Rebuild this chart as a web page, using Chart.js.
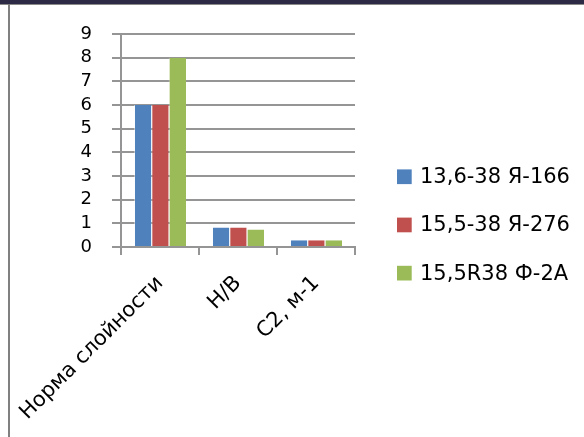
<!DOCTYPE html>
<html>
<head>
<meta charset="utf-8">
<script src="https://cdn.jsdelivr.net/npm/chart.js@4/dist/chart.umd.min.js"></script>
<style>
  html, body { margin: 0; padding: 0; background: #ffffff; }
  #wrap { position: relative; width: 584px; height: 437px; overflow: hidden; }
  canvas { position: absolute; left: 0; top: 0; }
  #band { position: absolute; left: 0; top: 0; width: 584px; height: 4px; background: #2c2a44; }
  #rule { position: absolute; left: 0; top: 4px; width: 584px; height: 1px; background: #8a8a8a; }
  #edge { position: absolute; left: 8px; top: 4px; width: 2px; height: 433px; background: #808080; }
</style>
</head>
<body>
<div id="wrap">
  <canvas id="chart" width="584" height="437"></canvas>
  <div id="band"></div>
  <div id="rule"></div>
  <div id="edge"></div>
</div>
<script>
// Categories and series
const categories = ['Норма слойности', 'Н/В', 'С2, м-1'];
const seriesNames = ['13,6-38 Я-166', '15,5-38 Я-276', '15,5R38 Ф-2А'];
const seriesYa166 = [6, 0.82, 0.29];
const seriesYa276 = [6, 0.82, 0.29];
const seriesF2A = [8, 0.74, 0.29];
const yTickValues = [0, 1, 2, 3, 4, 5, 6, 7, 8, 9];
const seriesColors = ['#4F81BD', '#C0504D', '#9BBB59'];

const gridColor = '#959595';
const fontFamily = '"DejaVu Sans", "Liberation Sans", sans-serif';

// Legend drawn at the right side, one row per dataset
const sideLegend = {
  id: 'sideLegend',
  afterDraw(chart) {
    const ctx = chart.ctx;
    ctx.save();
    ctx.font = '21px ' + fontFamily;
    ctx.textBaseline = 'middle';
    ctx.textAlign = 'left';
    chart.data.datasets.forEach((ds, i) => {
      const cy = 176.7 + i * 48.2;
      ctx.fillStyle = ds.backgroundColor;
      ctx.fillRect(397, cy - 7.3, 14.7, 14.7);
      ctx.fillStyle = '#000000';
      ctx.fillText(ds.label, 420, cy + 1);
    });
    ctx.restore();
  }
};

const seriesValues = [seriesYa166, seriesYa276, seriesF2A];

new Chart(document.getElementById('chart'), {
  type: 'bar',
  data: {
    labels: categories,
    datasets: seriesNames.map((name, i) => ({
      label: name,
      data: seriesValues[i],
      backgroundColor: seriesColors[i],
      borderColor: 'rgba(255,255,255,0.45)',
      borderWidth: { left: 1, right: 0, top: 0, bottom: 0 },
      borderSkipped: false,
      categoryPercentage: 0.667,
      barPercentage: 1.0
    }))
  },
  options: {
    responsive: false,
    animation: false,
    devicePixelRatio: 1,
    layout: { padding: { top: 34, right: 229, bottom: 0, left: 0 } },
    plugins: {
      legend: { display: false },
      tooltip: { enabled: false }
    },
    scales: {
      x: {
        offset: true,
        grid: {
          offset: true,
          drawOnChartArea: false,
          drawTicks: true,
          tickLength: 8,
          color: gridColor,
          lineWidth: 2
        },
        border: { display: true, color: gridColor, width: 2 },
        ticks: {
          autoSkip: false,
          minRotation: 45,
          maxRotation: 45,
          padding: 16,
          color: '#000000',
          font: { family: fontFamily, size: 21 }
        },
        afterFit(scale) {
          scale.height = 190;
          // the long first label may hang past the axis on the left
          scale.paddingLeft = 0;
          scale.paddingRight = 0;
        }
      },
      y: {
        min: 0,
        max: 9,
        afterBuildTicks(scale) { scale.ticks = yTickValues.map(v => ({ value: v })); },
        grid: {
          drawTicks: true,
          tickLength: 9,
          color: gridColor,
          lineWidth: 2
        },
        border: { display: true, color: gridColor, width: 2 },
        ticks: {
          autoSkip: false,
          padding: 20,
          color: '#000000',
          font: { family: fontFamily, size: 18 }
        },
        afterFit(scale) { scale.width = 121; }
      }
    }
  },
  plugins: [sideLegend]
});
</script>
</body>
</html>
